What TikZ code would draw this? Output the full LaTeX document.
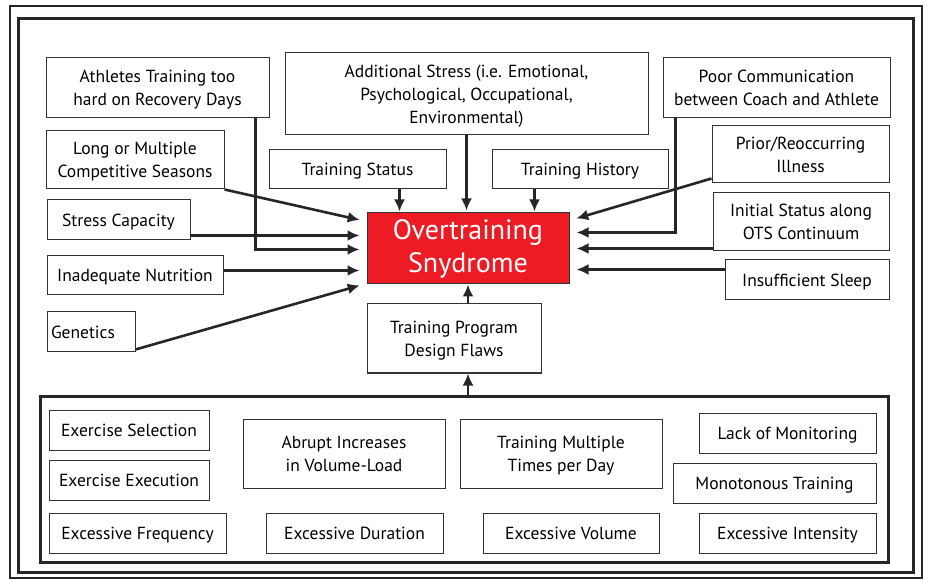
\documentclass[tikz,border=0pt]{standalone}
\usepackage{fontspec}
\setmainfont{PT Sans}
\usetikzlibrary{calc,arrows.meta}
\definecolor{otsred}{HTML}{ED1C24}

\begin{document}
\begin{tikzpicture}[x=1pt,y=-1pt,font=\fontsize{17.5}{23}\selectfont,>={Latex[length=12pt,width=11pt]}]
% Box styles: factor boxes, the red syndrome box and the frames
\tikzstyle{factor}=[draw=black!80,line width=1pt,align=center,inner sep=2pt,fill=white,text depth=0pt]
\tikzstyle{syndrome}=[draw=black!80,line width=1pt,fill=otsred,text=white,align=center,font=\fontsize{28}{33}\selectfont]
\tikzstyle{flow}=[->,line width=2.6pt,black!85,shorten >=7pt]
\useasboundingbox (0,0) rectangle (930,580);
% Frames
\draw[line width=1.6pt,black!85] (10,6) rectangle (922,578);
\draw[line width=3pt,black!85] (18,19) rectangle (913,572);
% The syndrome and the boxes around it
\node(ots)[syndrome,minimum width=202pt,minimum height=71pt] at (468,248.5) {Overtraining\\Snydrome};
\node(athl)[factor,minimum width=223pt,minimum height=60pt] at (157.5,88) {Athletes Training too\\hard on Recovery Days};
\node(seasons)[factor,minimum width=178pt,minimum height=58pt] at (135,160) {Long or Multiple\\Competitive Seasons};
\node(stresscap)[factor,minimum width=143pt,minimum height=40pt] at (118.5,220) {Stress Capacity};
\node(nutr)[factor,minimum width=176pt,minimum height=39pt] at (135,275.5) {Inadequate Nutrition};
\node(genet)[factor,minimum width=88pt,minimum height=40pt,text width=80pt,align=left] at (91,332) {Genetics};
\node(addstress)[factor,minimum width=363pt,minimum height=82pt] at (466.5,94) {Additional Stress (i.e. Emotional,\\Psychological, Occupational,\\Environmental)};
\node(tstatus)[factor,minimum width=177pt,minimum height=39pt] at (357.5,169.5) {Training Status};
\node(thistory)[factor,minimum width=176pt,minimum height=39pt] at (580,169.5) {Training History};
\node(poorcomm)[factor,minimum width=227pt,minimum height=60pt] at (776.5,88) {Poor Communication\\between Coach and Athlete};
\node(illness)[factor,minimum width=177pt,minimum height=57pt] at (800.5,154.5) {Prior/Reoccurring\\Illness};
\node(initial)[factor,minimum width=176pt,minimum height=58pt] at (801,222) {Initial Status along\\OTS Continuum};
\node(sleep)[factor,minimum width=164pt,minimum height=40pt] at (807,280) {Insufficient Sleep};
\node(design)[factor,minimum width=174pt,minimum height=69pt] at (454,338.5) {Training Program\\Design Flaws};
% Program design container and its flaws
\node(program)[draw=black!85,line width=3pt,minimum width=848pt,minimum height=166pt] at (464,479) {};
\node(exsel)[factor,minimum width=160pt,minimum height=40pt] at (129,430) {Exercise Selection};
\node(exexec)[factor,minimum width=160pt,minimum height=40pt] at (129,480) {Exercise Execution};
\node(exfreq)[factor,minimum width=177pt,minimum height=40pt] at (137.5,533) {Excessive Frequency};
\node(abrupt)[factor,minimum width=202pt,minimum height=69pt] at (344,453.5) {Abrupt Increases\\in Volume-Load};
\node(exdur)[factor,minimum width=177pt,minimum height=40pt] at (354.5,533) {Excessive Duration};
\node(multiple)[factor,minimum width=202pt,minimum height=69pt] at (561,453.5) {Training Multiple\\Times per Day};
\node(exvol)[factor,minimum width=176pt,minimum height=40pt] at (571,533) {Excessive Volume};
\node(monitor)[factor,minimum width=177pt,minimum height=40pt] at (787.5,433) {Lack of Monitoring};
\node(monoton)[factor,minimum width=203pt,minimum height=40pt] at (774.5,483) {Monotonous Training};
\node(exint)[factor,minimum width=177pt,minimum height=40pt] at (787.5,533) {Excessive Intensity};
% Entry points on the syndrome box
\coordinate(inL1) at ($(ots.north west)+(0,9)$);
\coordinate(inL2) at ($(ots.north west)+(0,23)$);
\coordinate(inL3) at ($(ots.north west)+(0,37)$);
\coordinate(inL4) at ($(ots.north west)+(0,58)$);
\coordinate(inL5) at ($(ots.north west)+(0,71)$);
\coordinate(inR1) at ($(ots.north east)+(0,8)$);
\coordinate(inR2) at ($(ots.north east)+(0,20)$);
\coordinate(inR3) at ($(ots.north east)+(0,36)$);
\coordinate(inR4) at ($(ots.north east)+(0,57)$);
% Arrows from the left
\draw[flow](seasons.south east)--(inL1);
\draw[flow](stresscap.east|-inL2)--(inL2);
\draw[flow]($(athl.south east)+(-14,0)$)|-(inL3);
\draw[flow](nutr.east|-inL4)--(inL4);
\draw[flow]($(genet.south east)+(0,-3)$)--(inL5);
% Arrows from the top
\draw[flow,shorten >=2pt]($(tstatus.south west)+(131,0)$)--++(0,24);
\draw[flow,shorten >=2pt](addstress.south)--(addstress.south|-ots.north);
\draw[flow,shorten >=2pt]($(thistory.south west)+(43,0)$)--++(0,24);
% Arrows from the right
\draw[flow]($(illness.south west)+(0,-5)$)--(inR1);
\draw[flow]($(poorcomm.south west)+(13,0)$)|-(inR2);
\draw[flow](initial.west|-inR3)--(inR3);
\draw[flow](sleep.west|-inR4)--(inR4);
% Arrows from below
\draw[flow,shorten >=0pt](program.north-|ots.south)--(design.south-|ots.south);
\draw[flow,shorten >=0pt](design.north-|ots.south)--(ots.south);
\end{tikzpicture}
\end{document}
